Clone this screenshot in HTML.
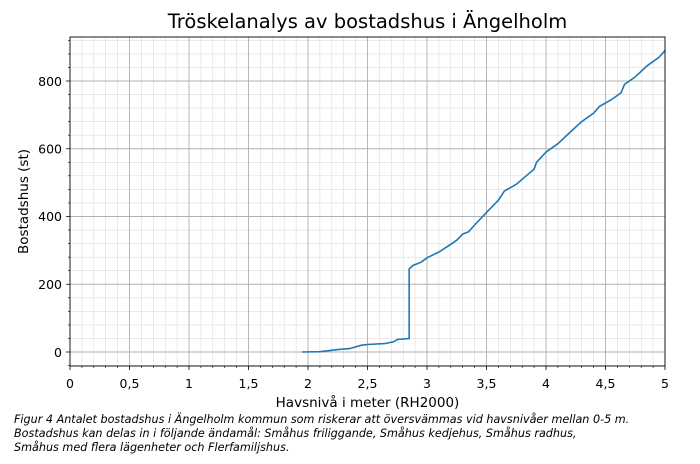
<!DOCTYPE html>
<html><head><meta charset="utf-8"><style>
html,body{margin:0;padding:0;background:#fff;}
svg text{font-family:"DejaVu Sans","Liberation Sans",sans-serif;}
</style></head><body>
<svg width="700" height="459" viewBox="0 0 700 459" xmlns="http://www.w3.org/2000/svg">
<rect width="700" height="459" fill="#fff"/>
<g stroke="#ddd" stroke-width="0.6">
<path d="M81.9 37V366M93.8 37V366M105.7 37V366M117.6 37V366M141.4 37V366M153.3 37V366M165.2 37V366M177.1 37V366M200.9 37V366M212.8 37V366M224.7 37V366M236.6 37V366M260.4 37V366M272.3 37V366M284.2 37V366M296.1 37V366M319.9 37V366M331.8 37V366M343.7 37V366M355.6 37V366M379.4 37V366M391.3 37V366M403.2 37V366M415.1 37V366M438.9 37V366M450.8 37V366M462.7 37V366M474.6 37V366M498.4 37V366M510.3 37V366M522.2 37V366M534.1 37V366M557.9 37V366M569.8 37V366M581.7 37V366M593.6 37V366M617.4 37V366M629.3 37V366M641.2 37V366M653.1 37V366"/>
<path d="M70 365.55H665M70 338.45H665M70 324.9H665M70 311.35H665M70 297.8H665M70 270.7H665M70 257.15H665M70 243.6H665M70 230.05H665M70 202.95H665M70 189.4H665M70 175.85H665M70 162.3H665M70 135.2H665M70 121.65H665M70 108.1H665M70 94.55H665M70 67.45H665M70 53.9H665M70 40.35H665"/>
</g>
<g stroke="#b0b0b0" stroke-width="0.9">
<path d="M129.5 37V366M189 37V366M248.5 37V366M308 37V366M367.5 37V366M427 37V366M486.5 37V366M546 37V366M605.5 37V366"/>
<path d="M70 352H665M70 284.25H665M70 216.5H665M70 148.75H665M70 81H665"/>
</g>
<polyline fill="none" stroke="#1f77b4" stroke-width="1.6" points="302.05,352 319.9,351.7 337.75,349.6 349.65,348.6 361.55,345.2 367.5,344.5 385.35,343.5 393.7,341.8 397.25,339.5 409.15,338.5 409.15,269 412.7,265.6 421,262.2 427,257.8 438.9,252 450.8,244.3 456.75,240.2 462.7,234.1 468.65,231.7 474.6,225 486.5,212.4 498.4,200.2 504.35,191.1 516.25,184.3 528.15,174.2 534.1,169.1 536.5,162.3 546,152.1 557.9,143.7 569.8,132.5 581.7,121.6 593.6,113.2 599.55,106.4 611.45,99.6 621,92.9 624.5,84.4 635.25,76.9 647.15,65.8 659,57.3 665,50.5"/>
<rect x="70" y="37" width="595" height="329" fill="none" stroke="#000" stroke-width="0.9"/>
<g stroke="#000" stroke-width="0.8">
<path d="M70 366v4M129.5 366v4M189 366v4M248.5 366v4M308 366v4M367.5 366v4M427 366v4M486.5 366v4M546 366v4M605.5 366v4M665 366v4"/>
<path d="M70 352h-4M70 284.25h-4M70 216.5h-4M70 148.75h-4M70 81h-4"/>
</g>
<g stroke="#000" stroke-width="0.6">
<path d="M81.9 366v2M93.8 366v2M105.7 366v2M117.6 366v2M141.4 366v2M153.3 366v2M165.2 366v2M177.1 366v2M200.9 366v2M212.8 366v2M224.7 366v2M236.6 366v2M260.4 366v2M272.3 366v2M284.2 366v2M296.1 366v2M319.9 366v2M331.8 366v2M343.7 366v2M355.6 366v2M379.4 366v2M391.3 366v2M403.2 366v2M415.1 366v2M438.9 366v2M450.8 366v2M462.7 366v2M474.6 366v2M498.4 366v2M510.3 366v2M522.2 366v2M534.1 366v2M557.9 366v2M569.8 366v2M581.7 366v2M593.6 366v2M617.4 366v2M629.3 366v2M641.2 366v2M653.1 366v2"/>
<path d="M70 365.55h-2M70 338.45h-2M70 324.9h-2M70 311.35h-2M70 297.8h-2M70 270.7h-2M70 257.15h-2M70 243.6h-2M70 230.05h-2M70 202.95h-2M70 189.4h-2M70 175.85h-2M70 162.3h-2M70 135.2h-2M70 121.65h-2M70 108.1h-2M70 94.55h-2M70 67.45h-2M70 53.9h-2M70 40.35h-2"/>
</g>
<g font-size="12.5" fill="#000" text-anchor="middle">
<text x="70" y="388">0</text><text x="129.5" y="388">0,5</text><text x="189" y="388">1</text><text x="248.5" y="388">1,5</text><text x="308" y="388">2</text><text x="367.5" y="388">2,5</text><text x="427" y="388">3</text><text x="486.5" y="388">3,5</text><text x="546" y="388">4</text><text x="605.5" y="388">4,5</text><text x="665" y="388">5</text>
</g>
<g font-size="12.5" fill="#000" text-anchor="end">
<text x="62" y="357">0</text><text x="62" y="289">200</text><text x="62" y="221">400</text><text x="62" y="153.5">600</text><text x="62" y="86">800</text>
</g>
<text x="367.5" y="407" font-size="13.5" text-anchor="middle">Havsnivå i meter (RH2000)</text>
<text transform="translate(28,201.5) rotate(-90)" font-size="13.5" text-anchor="middle">Bostadshus (st)</text>
<text x="367.5" y="28" font-size="19.5" text-anchor="middle">Tröskelanalys av bostadshus i Ängelholm</text>
<g font-size="11.2" font-style="italic" fill="#000">
<text x="14" y="423">Figur 4 Antalet bostadshus i Ängelholm kommun som riskerar att översvämmas vid havsnivåer mellan 0-5 m.</text>
<text x="14" y="437">Bostadshus kan delas in i följande ändamål: Småhus friliggande, Småhus kedjehus, Småhus radhus,</text>
<text x="14" y="451">Småhus med flera lägenheter och Flerfamiljshus.</text>
</g>
</svg>
</body></html>
